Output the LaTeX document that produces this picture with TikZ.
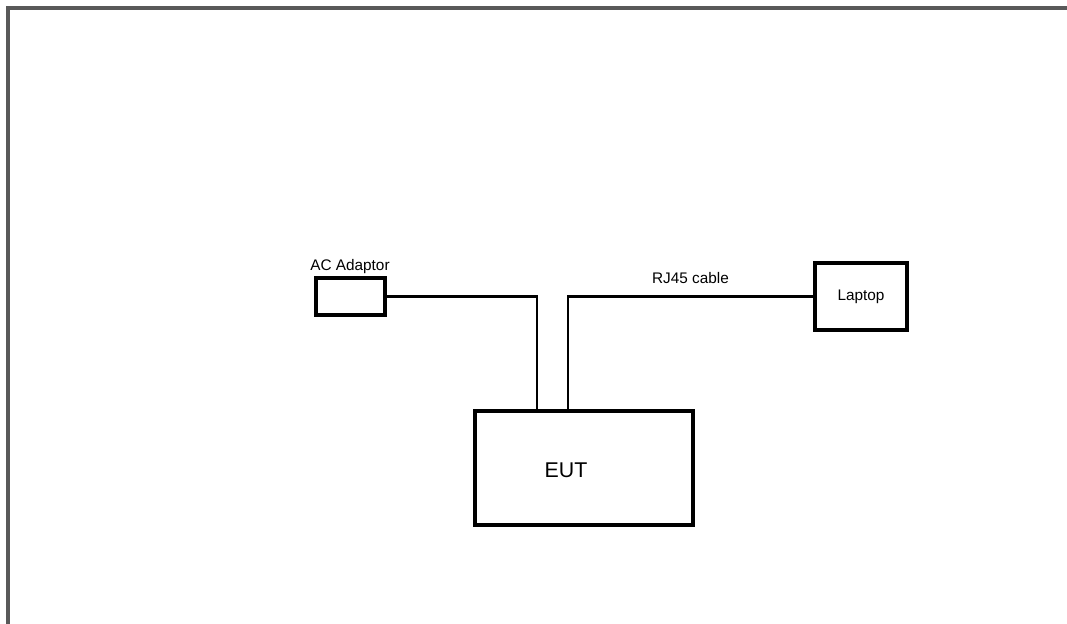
\documentclass[tikz,border=0pt]{standalone}
\usepackage{fontspec}
\setmainfont{Liberation Sans}
\usepackage{tikz}
\usetikzlibrary{positioning}

\begin{document}
\begin{tikzpicture}[x=0.75pt,y=-0.75pt,
  unit/.style={draw,line width=3pt,inner sep=0pt,align=center},
  cable/.style={line width=2pt}]
  \useasboundingbox (0,0) rectangle (1067,624);
  % page frame
  \draw[line width=2.4pt,black!65] (8,624) -- (8,8) -- (1067,8);

  \node[unit,minimum width=51.75pt,minimum height=27.75pt] (ac) at (350.5,296.5) {};
  \node[font=\fontsize{11.5}{13}\selectfont] (aclabel) at (350,267) {AC Adaptor};
  \node[unit,minimum width=163.5pt,minimum height=86pt] (eut) at (584,468) {};
  \node[font=\fontsize{16}{19}\selectfont] (eutlabel) at (566,470) {EUT};
  \node[unit,minimum width=69pt,minimum height=50pt,font=\fontsize{11.5}{14}\selectfont] (lap) at (861,296.5) {Laptop};

  \draw[cable] (ac.east) -| ([xshift=-35.25pt]eut.north);
  \draw[cable] ([xshift=-12pt]eut.north) |- node[pos=0.75,above=5.5pt,font=\fontsize{11.5}{13}\selectfont] (rjlabel) {RJ45 cable} (lap.west);
\end{tikzpicture}
\end{document}
